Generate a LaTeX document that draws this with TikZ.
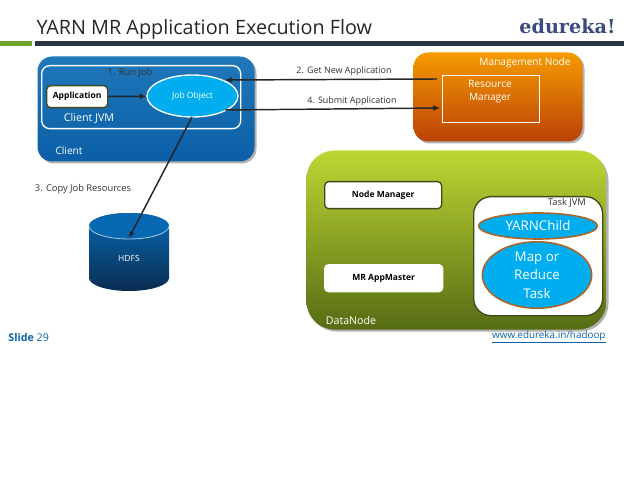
\documentclass[tikz,border=0pt]{standalone}
\usepackage{fontspec}
\setmainfont{Open Sans}
\newfontfamily\logofont{DejaVu Serif}
\usetikzlibrary{shapes.geometric,shadows,arrows.meta}
\definecolor{clientblue}{HTML}{0768B2}
\definecolor{clientdark}{HTML}{0A5FA6}
\definecolor{hdfsdark}{HTML}{0A2D50}
\definecolor{jobcyan}{HTML}{00AEEF}
\definecolor{mgmttop}{HTML}{F59A00}
\definecolor{mgmtbot}{HTML}{BB4208}
\definecolor{datatop}{HTML}{BDD733}
\definecolor{databot}{HTML}{566C14}
\definecolor{barblack}{HTML}{2B3542}
\definecolor{bargreen}{HTML}{6FA52A}
\definecolor{logoblue}{HTML}{3A4A80}
\definecolor{edgeolive}{HTML}{3F4A1E}
\definecolor{edgebrown}{HTML}{A8662A}
\definecolor{labelgrey}{HTML}{333333}
\definecolor{slideblue}{HTML}{0B62A8}
\tikzset{every picture/.style={line width=0.75pt}}
\tikzset{
  softshadow/.style={drop shadow={shadow xshift=1.5pt,shadow yshift=-1.5pt,opacity=0.3,fill=black}},
  panel/.style={rectangle,rounded corners=#1,softshadow,inner sep=0pt,anchor=north west},
  whitebox/.style={rectangle,rounded corners=3pt,draw=edgeolive,fill=white,line width=1pt,inner sep=0pt,anchor=north west,font=\bfseries\fontsize{6.4}{8}\selectfont,text=black},
  frame/.style={rectangle,draw=white,inner sep=0pt,anchor=north west},
  txt/.style={inner sep=0.75pt,text=labelgrey,font=\fontsize{7}{8.5}\selectfont},
  whitetxt/.style={inner sep=0.75pt,text=white,align=center,font=\fontsize{7.6}{10}\selectfont},
  cyanoval/.style={ellipse,fill=jobcyan,inner sep=0pt,text=white,align=center},
  flowarrow/.style={draw=black!85,line width=1.1pt,-{Latex[length=5pt,width=4.5pt]}}
}
\begin{document}
\begin{tikzpicture}[x=0.75pt,y=0.75pt,yscale=-1,xscale=1]
\useasboundingbox (0,0) rectangle (624,477);

% Title bar
\node (title) [anchor=west,inner sep=0pt,text=black!85,font=\fontsize{14.85}{18}\selectfont] at (36,29) {YARN MR Application Execution Flow};
\node (logo) [anchor=east,inner sep=0pt,text=logoblue,font=\logofont\bfseries\fontsize{14.4}{16}\selectfont] at (616,26) {edureka!};
\fill [bargreen] (0,41) rectangle (32,46);
\fill [barblack] (35,41) rectangle (624,46);

% Client
\node (client) [panel=11pt,top color=clientblue!90!white,bottom color=clientdark,minimum width=162.75pt,minimum height=78.75pt] at (37,56) {};
\node (clientjvm) [frame,rounded corners=6pt,line width=1pt,minimum width=149.25pt,minimum height=47.25pt] at (41,65) {};
\node (application) [whitebox,minimum width=45.75pt,minimum height=16.5pt] at (46,85) {Application};
\node (jobobject) [cyanoval,draw=white,line width=1pt,minimum width=68.25pt,minimum height=31.5pt,font=\fontsize{6.4}{8}\selectfont] at (192.5,96) {Job Object};
\node (runlabel) [txt] at (130,73) {1. Run Job};
\node (clientjvmlabel) [whitetxt,font=\fontsize{8}{9}\selectfont] at (89,118.5) {Client JVM};
\node (clientlabel) [whitetxt] at (69,151) {Client};

% Management Node
\node (mgmt) [panel=11pt,top color=mgmttop,bottom color=mgmtbot,minimum width=126.75pt,minimum height=66.75pt] at (413,52) {};
\node (rm) [frame,minimum width=72.75pt,minimum height=35.25pt] at (442,75) {};
\node (mgmtlabel) [whitetxt] at (525,63) {Management Node};
\node (rmlabel) [whitetxt] at (490,91.5) {Resource\\Manager};

% DataNode
\node (datanode) [panel=21pt,top color=datatop,bottom color=databot,minimum width=225pt,minimum height=134.25pt] at (306,150) {};
\node (nodemanager) [whitebox,minimum width=87.75pt,minimum height=20.25pt] at (324,181) {Node Manager};
\node (appmaster) [whitebox,minimum width=88.5pt,minimum height=20.25pt,draw=white] at (324,264) {MR AppMaster};
\node (taskjvm) [rectangle,rounded corners=13pt,draw=edgeolive,fill=white,line width=1pt,inner sep=0pt,anchor=north west,minimum width=96.75pt,minimum height=89.25pt] at (473,196) {};
\node (tasklabel) [txt] at (567,203) {Task JVM};
\node (yarnchild) [cyanoval,draw=edgebrown,line width=1.2pt,minimum width=89pt,minimum height=19.5pt,font=\fontsize{10}{12}\selectfont] at (538,226) {YARNChild};
\node (maptask) [cyanoval,draw=edgebrown,line width=1.2pt,minimum width=82pt,minimum height=46pt,font=\fontsize{10}{14}\selectfont] at (537,275) {Map or\\Reduce\\Task};
\node (datalabel) [whitetxt,font=\fontsize{8}{9}\selectfont] at (351,320) {DataNode};

% HDFS
\shade [top color=clientblue,bottom color=hdfsdark] (89,226) -- (89,278) arc [start angle=180,end angle=0,x radius=40,y radius=13] -- (169,226) arc [start angle=0,end angle=-180,x radius=40,y radius=13] -- cycle;
\fill [clientblue] (129,226) ellipse [x radius=40,y radius=13];
\draw [white!65!clientblue,line width=0.6pt] (89,226) arc [start angle=180,end angle=0,x radius=40,y radius=13];
\coordinate (hdfstop) at (129,238);
\node (hdfslabel) [whitetxt,font=\fontsize{6.4}{8}\selectfont] at (129,258) {HDFS};
\node (copylabel) [txt] at (83,189) {3. Copy Job Resources};

% Free ends of the long arrows
\coordinate (rmget) at (437,79);
\coordinate (rmsubmit) at (440,108);
\coordinate (jobget) at (225,80);
\coordinate (jobsubmit) at (225,110);
\coordinate (jobbottom) at (192,117);

% Connection
\draw [flowarrow] (application) -- (jobobject);
\draw [flowarrow] (rmget) -- (jobget);
\draw [flowarrow] (jobsubmit) -- (rmsubmit);
\draw [flowarrow] (jobbottom) -- (hdfstop);
\node (getlabel) [txt,font=\fontsize{6.7}{8.5}\selectfont] at (344,71) {2. Get New Application};
\node (submitlabel) [txt,font=\fontsize{6.7}{8.5}\selectfont] at (352,101) {4. Submit Application};

% Footer
\node (slide) [anchor=west,inner sep=0pt,text=slideblue,font=\fontsize{8}{9}\selectfont] at (8,337) {\textbf{Slide} 29};
\node (url) [anchor=east,inner sep=0pt,text=slideblue,font=\fontsize{7.4}{9}\selectfont] at (606,337) {\underline{www.edureka.in/hadoop}};

\end{tikzpicture}
\end{document}
